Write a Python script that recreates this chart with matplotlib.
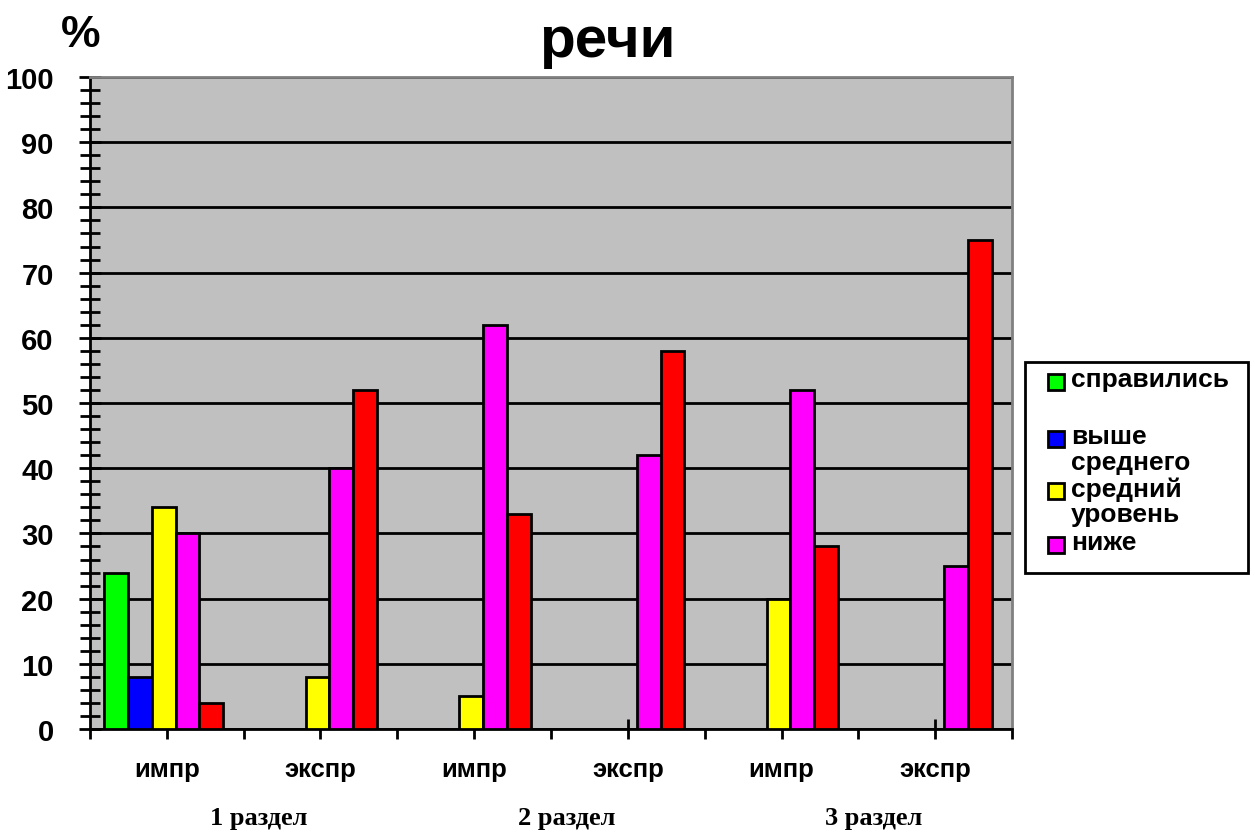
import numpy as np
import matplotlib.pyplot as plt
from matplotlib.patches import Rectangle
import matplotlib.transforms as mtransforms

plt.rcParams['font.family'] = ['Liberation Sans', 'DejaVu Sans']
plt.rcParams['font.weight'] = 'bold'

categories = ['импр', 'экспр', 'импр', 'экспр', 'импр', 'экспр']
sections = ['1 раздел', '2 раздел', '3 раздел']
series_names = ['справились', 'выше\nсреднего', 'средний\nуровень', 'ниже\nсреднего', 'не справились']
colors = ['#00FF00', '#0000FF', '#FFFF00', '#FF00FF', '#FF0000']

coped = [24, 0, 0, 0, 0, 0]
above_avg = [8, 0, 0, 0, 0, 0]
average = [34, 8, 5, 0, 20, 0]
below_avg = [30, 40, 62, 42, 52, 25]
failed = [4, 52, 33, 58, 28, 75]
series = [coped, above_avg, average, below_avg, failed]

fig = plt.figure(figsize=(12.55, 8.37), dpi=100)
ax = fig.add_axes([0.0717, 0.1278, 0.7347, 0.779])
ax.set_facecolor('#C0C0C0')

x = np.arange(len(categories))
w = 0.155
for i, vals in enumerate(series):
    v = np.array(vals, dtype=float)
    v[v == 0] = np.nan  # zero bars are not drawn
    ax.bar(x + (i - 2) * w - 0.02, v, w, color=colors[i], edgecolor='black',
           linewidth=2, zorder=3)

ax.set_xlim(-0.5, len(categories) - 0.5)
ax.set_ylim(0, 100)
ax.set_yticks(np.arange(0, 101, 10))
ax.set_yticks(np.arange(0, 101, 2), minor=True)
ax.yaxis.grid(True, color='black', linewidth=2, zorder=1)
ax.tick_params(axis='y', which='both', direction='inout', length=16, width=2,
               labelsize=21, pad=18)
ax.tick_params(axis='y', which='minor', length=14)

ax.set_xticks(x)
ax.set_xticklabels(categories)
ax.set_xticks(np.arange(-0.5, len(categories), 1), minor=True)
ax.tick_params(axis='x', which='major', direction='inout', length=14, width=2,
               labelsize=18.5, pad=13)
ax.tick_params(axis='x', which='minor', direction='out', length=7, width=2)

for s in ['left', 'bottom']:
    ax.spines[s].set_linewidth(2)
    ax.spines[s].set_color('black')
for s in ['top', 'right']:
    ax.spines[s].set_linewidth(2)
    ax.spines[s].set_color('#808080')

trans = mtransforms.blended_transform_factory(ax.transData, ax.transAxes)
for k, name in enumerate(sections):
    ax.text(2 * k + 0.6, -0.135, name, transform=trans, ha='center', va='center',
            fontsize=19, fontweight='bold', family='Liberation Serif')

fig.text(0.484, 0.950, 'речи', ha='center', va='center', fontsize=42, fontweight='bold')
fig.text(0.064, 0.958, '%', ha='center', va='center', fontsize=32, fontweight='bold')

# legend drawn by hand so that the swatch sits at the first text line
W, H = 1255.0, 837.0
fig.add_artist(Rectangle((1025 / W, 1 - 574 / H), 223 / W, 211 / H, transform=fig.transFigure,
                         facecolor='white', edgecolor='black', linewidth=2))
rows = [383, 440, 492, 546]
legend_text = ['справились', 'выше\nсреднего', 'средний\nуровень', 'ниже']
for i, (ry, lab) in enumerate(zip(rows, legend_text)):
    fig.add_artist(Rectangle((1048 / W, 1 - (ry + 8) / H), 16 / W, 16 / H, transform=fig.transFigure,
                             facecolor=colors[i], edgecolor='black', linewidth=2))
    fig.text(1071 / W, 1 - (ry - 15) / H, lab, ha='left', va='top', fontsize=19,
             fontweight='bold', linespacing=1.08)

fig.savefig('out.png', dpi=100)
